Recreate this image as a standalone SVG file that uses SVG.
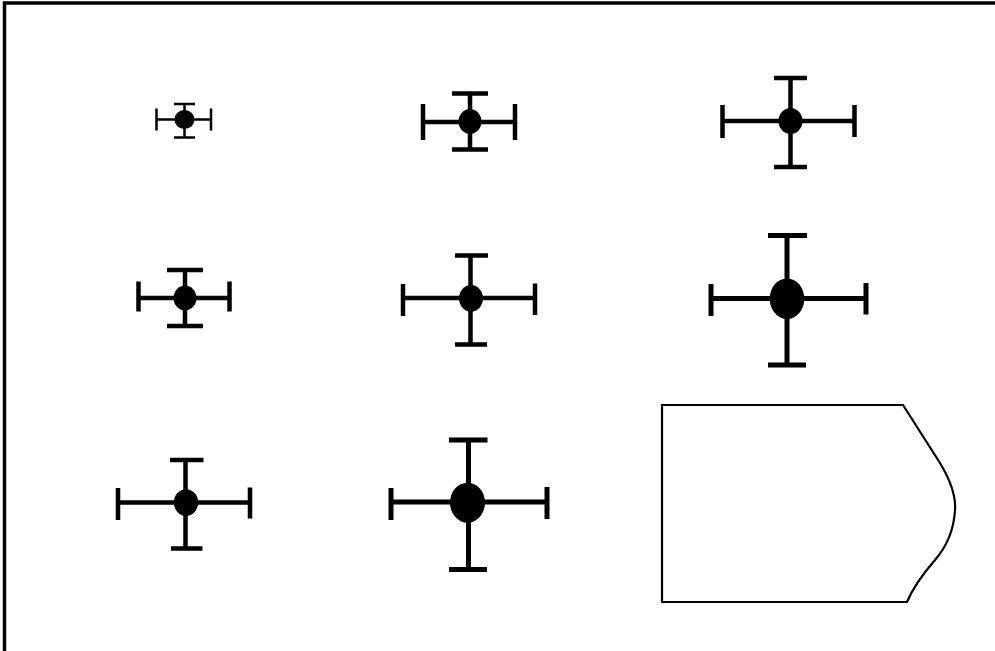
<svg xmlns="http://www.w3.org/2000/svg" width="995" height="651" viewBox="0 0 995 651">
<style>
.bar{stroke:#000;fill:none;stroke-linecap:butt}
.dot{fill:#000;stroke:none}
.s1{stroke-width:2.5}
.s2{stroke-width:4.5}
.s3{stroke-width:5}
</style>
<rect x="0" y="0" width="995" height="651" fill="#fff"/>
<rect id="frame" x="4.5" y="3" width="1000" height="700" fill="none" stroke="#000" stroke-width="3.5"/>
<g id="cross1" class="bar s1">
<path d="M156.5,119.5H211M156.5,108.5V130.5M211,108.5V130.5M184.5,104V137.5M174,104H195M174,137.5H195"/>
<ellipse class="dot" cx="184.5" cy="119.5" rx="10" ry="9.5"/>
</g>
<g id="cross2" class="bar s2">
<path d="M423,122H515M423,104V140M515,104V140M470,93.5V149.5M452,93.5H488M452,149.5H488"/>
<ellipse class="dot" cx="470" cy="121.5" rx="11.5" ry="12.5"/>
</g>
<g id="cross3" class="bar s2">
<path d="M722.5,121H854.5M722.5,105V138M854.5,105V137M790.5,78V167M774,78H807M774,167H807"/>
<ellipse class="dot" cx="790.5" cy="121" rx="12" ry="13"/>
</g>
<g id="cross4" class="bar s2">
<path d="M138.5,298H229.5M138.5,281.5V311.5M229.5,281.5V311.5M185,270V326M167,270H203M167,326H203"/>
<ellipse class="dot" cx="185" cy="298" rx="11.5" ry="12.5"/>
</g>
<g id="cross5" class="bar s2">
<path d="M403,298H535M403,284V316M535,283.5V315M470.5,255.5V344.5M455,255.5H488M455,344.5H487"/>
<ellipse class="dot" cx="471" cy="298.3" rx="12" ry="13.3"/>
</g>
<g id="cross6" class="bar s3">
<path d="M711,298.5H866M711,284V316M866,283V314.5M787,235.5V365M768,235.5H807M768,365H806"/>
<ellipse class="dot" cx="787" cy="298.7" rx="17.3" ry="20.3"/>
</g>
<g id="cross7" class="bar s2">
<path d="M118,502.5H250M118,488V520M250,487.5V518.5M185.5,460V548.5M170,460H203.5M171,548.5H202.5"/>
<ellipse class="dot" cx="186" cy="502.5" rx="12.2" ry="13.3"/>
</g>
<g id="cross8" class="bar s3">
<path d="M391,502H547M391,488V520M547,487V519M468.5,440V569.5M449,440H487.5M449,569.5H487"/>
<ellipse class="dot" cx="467.5" cy="502.7" rx="17.5" ry="20"/>
</g>
<g id="shape">
<path d="M662,405H903L940,463C952,483 956,497 955,510C954,528 948,545 935,560C922,575 912,590 907,602H662Z" fill="#fff" stroke="#000" stroke-width="2.2"/>
</g>
<g id="connectors"/>
</svg>
